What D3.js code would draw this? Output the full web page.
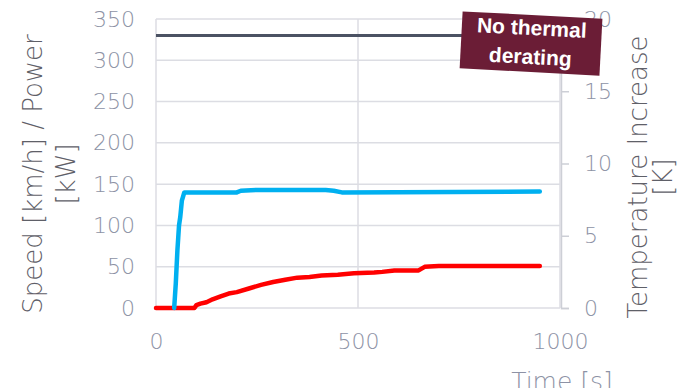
<!DOCTYPE html>
<html>
<head>
<meta charset="utf-8">
<script src="https://d3js.org/d3.v7.min.js"></script>
<style>
  body { margin: 0; background: #fff; }
  svg text { font-family: "DejaVu Sans", sans-serif; font-weight: 300; }
  svg text.note { font-family: "Liberation Sans", Arial, sans-serif; font-weight: bold; }
</style>
</head>
<body>
<svg id="chart" width="679" height="388"></svg>
<script>
// data
const xTicks = [0, 500, 1000];
const leftTicks = [0, 50, 100, 150, 200, 250, 300, 350];
const rightTicks = [0, 5, 10, 15, 20];

// power (kW), flat
const powerTime = [0, 950];
const powerVal = [330, 330];

// speed (km/h)
const speedTime = [45, 47, 49, 51, 53, 55, 57, 60, 62, 64, 67, 70, 200, 210, 250, 420, 440, 460, 950];
const speedVal = [0, 15, 30, 50, 70, 85, 100, 110, 120, 130, 135, 140, 140, 142, 143, 143, 142, 140, 141];

// temperature increase (K), right axis
const tempTime = [0, 95, 100, 110, 125, 140, 160, 180, 200, 230, 260, 290, 320, 350, 380, 410, 450, 490, 540, 560, 590, 650, 665, 700, 950];
const tempVal = [0, 0, 0.2, 0.3, 0.4, 0.6, 0.8, 1.0, 1.1, 1.35, 1.6, 1.8, 1.95, 2.1, 2.15, 2.25, 2.3, 2.4, 2.45, 2.5, 2.6, 2.6, 2.85, 2.9, 2.9];

const svg = d3.select("#chart");
const x = d3.scaleLinear().domain([0, 1000]).range([156, 560]);
const yL = d3.scaleLinear().domain([0, 350]).range([308, 19]);
const yR = d3.scaleLinear().domain([0, 20]).range([308, 19]);

const gridColor = "#dcdde3";
const tickColor = "#8d92a5";
const titleColor = "#5f6068";

// gridlines
svg.append("g").selectAll("line").data(leftTicks).join("line")
  .attr("x1", x(0)).attr("x2", x(1000))
  .attr("y1", d => yL(d)).attr("y2", d => yL(d))
  .attr("stroke", gridColor).attr("stroke-width", 1.5);
svg.append("g").selectAll("line").data(xTicks).join("line")
  .attr("x1", d => x(d)).attr("x2", d => x(d))
  .attr("y1", yL(0)).attr("y2", yL(350))
  .attr("stroke", gridColor).attr("stroke-width", 1.5);

// right axis
const rAxis = svg.append("g").attr("transform", `translate(${x(1000) + 1},0)`)
  .call(d3.axisRight(yR).tickValues(rightTicks).tickSize(8).tickPadding(15));
rAxis.select(".domain").attr("stroke", "#cdcfd6").attr("stroke-width", 1.5);
rAxis.selectAll(".tick line").attr("stroke", "#cdcfd6").attr("stroke-width", 1.5);
rAxis.selectAll("text").attr("fill", tickColor).attr("font-size", 22).attr("font-family", null);

// left axis labels
const lAxis = svg.append("g").attr("transform", `translate(${x(0)},0)`)
  .call(d3.axisLeft(yL).tickValues(leftTicks).tickSize(0).tickPadding(21));
lAxis.select(".domain").remove();
lAxis.selectAll("text").attr("fill", tickColor).attr("font-size", 22).attr("font-family", null);

// bottom axis labels
const bAxis = svg.append("g").attr("transform", `translate(0,${yL(0)})`)
  .call(d3.axisBottom(x).tickValues(xTicks).tickFormat(d3.format("d")).tickSize(0).tickPadding(25));
bAxis.select(".domain").remove();
bAxis.selectAll("text").attr("fill", tickColor).attr("font-size", 22).attr("font-family", null);

// axis titles
const title = (tx, ty, txt, col) => svg.append("text")
  .attr("transform", `translate(${tx},${ty}) rotate(-90)`)
  .attr("text-anchor", "middle").attr("fill", col).attr("font-size", 26)
  .text(txt);
title(42, 174, "Speed [km/h] / Power", titleColor);
title(75, 174, "[kW]", titleColor);
title(647, 177, "Temperature Increase", titleColor);
title(672, 177, "[K]", titleColor);
svg.append("text").attr("x", 562).attr("y", 390)
  .attr("text-anchor", "middle").attr("fill", tickColor).attr("font-size", 25)
  .text("Time [s]");

// lines
const lineL = d3.line().x(d => x(d[0])).y(d => yL(d[1]));
const lineR = d3.line().x(d => x(d[0])).y(d => yR(d[1]));

svg.append("path").datum(d3.zip(powerTime, powerVal))
  .attr("d", lineL).attr("fill", "none").attr("stroke", "#4b5263").attr("stroke-width", 3);
svg.append("path").datum(d3.zip(tempTime, tempVal))
  .attr("d", lineR).attr("fill", "none").attr("stroke", "#ff0000")
  .attr("stroke-width", 4.5).attr("stroke-linejoin", "round").attr("stroke-linecap", "round");
svg.append("path").datum(d3.zip(speedTime, speedVal))
  .attr("d", lineL).attr("fill", "none").attr("stroke", "#00b0f0")
  .attr("stroke-width", 4.5).attr("stroke-linejoin", "round").attr("stroke-linecap", "round");

// label box
const note = svg.append("g").attr("transform", "translate(531,44) rotate(3)");
note.append("rect").attr("x", -70).attr("y", -29).attr("width", 140).attr("height", 57)
  .attr("fill", "#6b1d36");
note.selectAll("text").data(["No thermal", "derating"]).join("text")
  .attr("class", "note")
  .attr("x", 0).attr("y", (d, i) => i === 0 ? -9 : 20)
  .attr("text-anchor", "middle").attr("fill", "#fff")
  .attr("font-size", 21)
  .text(d => d);
</script>
</body>
</html>
